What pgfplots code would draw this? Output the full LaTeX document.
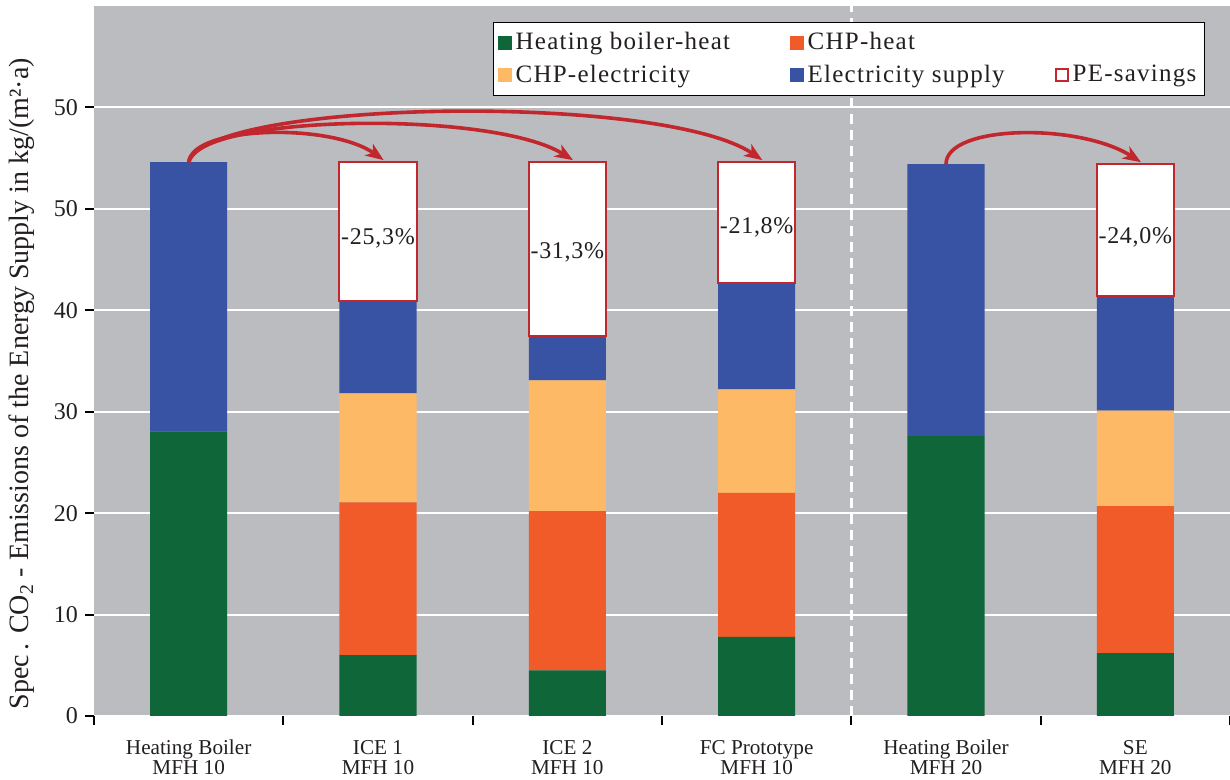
\documentclass[border=0pt]{standalone}
\usepackage{fontspec}
\setmainfont{Liberation Serif}
\newfontfamily\legfont[LetterSpace=5]{Liberation Serif}
\newfontfamily\pctfont[LetterSpace=3]{Liberation Serif}
\usepackage{pgfplots}
\usepackage{pgfplotstable}
\pgfplotsset{compat=1.18}
\usetikzlibrary{arrows.meta}
\definecolor{bggray}{HTML}{BBBCC0}
\definecolor{cgreen}{HTML}{0E6639}
\definecolor{corange}{HTML}{F15A29}
\definecolor{cyellow}{HTML}{FDB965}
\definecolor{cblue}{HTML}{3953A4}
\definecolor{cred}{HTML}{C1272D}
\definecolor{ctext}{HTML}{231F20}

\pgfplotstableread{
x green orange yellow blue
0 28.05 0 0 26.55
1 6.0 15.06 10.74 9.1
2 4.5 15.7 12.9 4.4
3 7.8 14.2 10.2 10.5
4 27.6 0 0 26.8
5 6.2 14.5 9.4 11.3
}\emis

\pgfplotstableread{
x base pe
1 40.9 13.7
2 37.5 17.1
3 42.7 11.9
5 41.4 13.0
}\pesave

\tikzset{pearrow/.style={draw=cred, line width=1.8pt, -{Stealth[length=9pt, width=7pt, inset=2.5pt]}},
  pelabel/.style={font=\pctfont\fontsize{12}{13}\selectfont, text=ctext}}

\begin{document}
\begin{tikzpicture}
\begin{axis}[name=ax,
  at={(0,0)}, anchor=south west,
  scale only axis, width=568pt, height=355pt,
  xmin=-0.5, xmax=5.5, ymin=0, ymax=70,
  ybar stacked, bar width=0.407,
  axis background/.style={fill=bggray},
  axis line style={draw=none},
  ymajorgrids, grid style={white, line width=1pt},
  tick pos=left, tick align=outside,
  tick style={black, line width=1pt},
  major tick length=4.5pt,
  ytick={0,10,...,60}, yticklabels={0,10,20,30,40,50,50},
  yticklabel style={font=\fontsize{12}{12}\selectfont, text=ctext},
  /pgf/number format/assume math mode=true,
  xtick={-0.5,0.5,1.5,2.5,3.5,4.5,5.5}, xticklabels={},
  extra x ticks={0,1,2,3,4,5},
  extra x tick labels={{Heating Boiler\\MFH 10},{ICE 1\\MFH 10},{ICE 2\\MFH 10},{FC Prototype\\MFH 10},{Heating Boiler\\MFH 20},{SE\\MFH 20}},
  extra x tick style={major tick length=0pt, grid=none},
  xticklabel style={align=center, font=\fontsize{10.6}{10}\selectfont, text=ctext, yshift=-8.5pt},
  ylabel={Spec\,. CO\textsubscript{2} - Emissions of the Energy Supply in kg/(m²·a)},
  every axis y label/.style={at={(axis description cs:-0.0634,0.468)}, rotate=90, anchor=center, font=\fontsize{14}{15}\selectfont, text=ctext},
  legend columns=3,
  legend cell align=left,
  legend style={at={(1,1)}, anchor=north east, xshift=-12.5pt, yshift=-8pt,
    draw=black, line width=0.6pt, fill=white,
    font=\legfont\fontsize{12.5}{14}\selectfont, text=ctext,
    /tikz/every even column/.append style={column sep=4pt},
    row sep=2pt, inner xsep=2pt, inner ysep=3pt},
]
\addplot[fill=cgreen, draw=none, legend image code/.code={\fill[cgreen] (0pt,-3.5pt) rectangle (7pt,3.5pt);}] table[x=x,y=green]{\emis};
\addlegendentry{\makebox[131pt][l]{Heating boiler-heat}}
\addplot[fill=corange, draw=none, legend image code/.code={\fill[corange] (0pt,-3.5pt) rectangle (7pt,3.5pt);}] table[x=x,y=orange]{\emis};
\addlegendentry{\makebox[117.5pt][l]{CHP-heat}}
\addlegendimage{legend image code/.code={}}
\addlegendentry{}
\addplot[fill=cyellow, draw=none, legend image code/.code={\fill[cyellow] (0pt,-3.5pt) rectangle (7pt,3.5pt);}] table[x=x,y=yellow]{\emis};
\addlegendentry{\makebox[131pt][l]{CHP-electricity}}
\addplot[fill=cblue, draw=none, legend image code/.code={\fill[cblue] (0pt,-3.5pt) rectangle (7pt,3.5pt);}] table[x=x,y=blue]{\emis};
\addlegendentry{\makebox[117.5pt][l]{Electricity supply}}
\addlegendimage{legend image code/.code={\draw[cred, line width=1pt, fill=white] (0.5pt,-3pt) rectangle (6.5pt,3pt);}}
\addlegendentry{PE-savings}
\draw[white, line width=1.3pt, dash pattern=on 5pt off 3pt] (axis cs:3.5,0) -- (axis cs:3.5,70);
\end{axis}
\begin{axis}[
  at={(ax.south west)}, anchor=south west,
  scale only axis, width=568pt, height=355pt,
  xmin=-0.5, xmax=5.5, ymin=0, ymax=70,
  axis lines=none, ticks=none, clip=false,
  ybar stacked, bar width=0.407,
]
\addplot[draw=none, fill=none] table[x=x,y=base]{\pesave};
\addplot[fill=white, draw=cred, line width=1pt] table[x=x,y=pe]{\pesave};
\coordinate (l1) at (axis cs:1,47.1);
\coordinate (l2) at (axis cs:2,45.7);
\coordinate (l3) at (axis cs:3,48.2);
\coordinate (l5) at (axis cs:5,47.2);
\coordinate (a0) at (axis cs:0,54.6);
\coordinate (a0c1) at (axis cs:0.02,58.2);
\coordinate (a1c2) at (axis cs:0.75,58.5);
\coordinate (a1) at (axis cs:1.03,54.8);
\coordinate (a0c2) at (axis cs:0.05,59.3);
\coordinate (a2c2) at (axis cs:1.6,59.8);
\coordinate (a2) at (axis cs:2.03,54.8);
\coordinate (a0c3) at (axis cs:0.1,60.8);
\coordinate (a3c2) at (axis cs:2.5,61.5);
\coordinate (a3) at (axis cs:3.03,54.8);
\coordinate (a4) at (axis cs:4,54.4);
\coordinate (a4c1) at (axis cs:4.0,58.3);
\coordinate (a5c2) at (axis cs:4.7,58.5);
\coordinate (a5) at (axis cs:5.03,54.6);
\end{axis}
\node[pelabel] at (l1) {-25,3\%};
\node[pelabel] at (l2) {-31,3\%};
\node[pelabel] at (l3) {-21,8\%};
\node[pelabel] at (l5) {-24,0\%};
\draw[pearrow] (a0) .. controls (a0c1) and (a1c2) .. (a1);
\draw[pearrow] (a0) .. controls (a0c2) and (a2c2) .. (a2);
\draw[pearrow] (a0) .. controls (a0c3) and (a3c2) .. (a3);
\draw[pearrow] (a4) .. controls (a4c1) and (a5c2) .. (a5);
\pgfresetboundingbox
\path ([xshift=-47pt,yshift=-32pt]ax.south west) rectangle ([yshift=3pt]ax.north east);
\end{tikzpicture}
\end{document}
